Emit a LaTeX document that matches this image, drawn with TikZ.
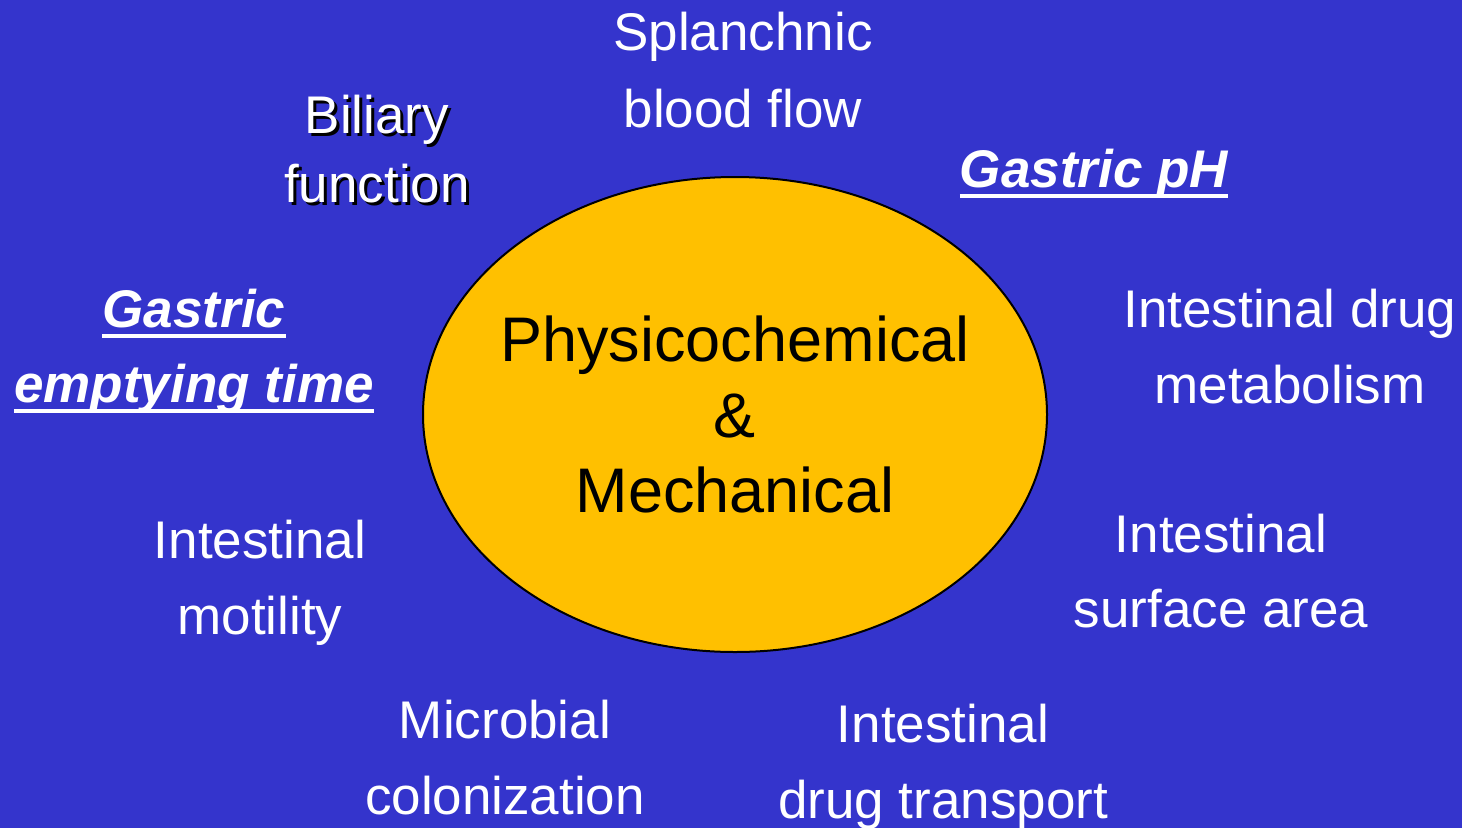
\documentclass[tikz,border=0pt]{standalone}
\usepackage{fontspec}
\setmainfont{Liberation Sans}
\usetikzlibrary{shapes.geometric}
\definecolor{bg}{HTML}{3434CC}
\definecolor{gold}{HTML}{FFC000}
\tikzset{
  lbl/.style={text=white, inner sep=0pt, anchor=base, font=\fontsize{53}{64}\selectfont},
  key/.style={text=white, inner sep=0pt, anchor=base, font=\fontsize{53}{64}\selectfont\bfseries\itshape},
  shadowtxt/.style={text=black, inner sep=0pt, anchor=base, font=\fontsize{53}{64}\selectfont},
  uline/.style={draw=white, line width=3.5pt},
}
\begin{document}
\begin{tikzpicture}[x=1pt,y=-1pt]
\fill[bg] (0,0) rectangle (1462,828);
\useasboundingbox (0,0) rectangle (1462,828);
% centre ellipse
\node (core) [ellipse, draw=black, line width=2pt, fill=gold, minimum width=624pt, minimum height=475pt, inner sep=0pt] at (735,414.5) {};
\node (coretext) [inner sep=0pt, align=center, font=\fontsize{63}{75.5}\selectfont] at (core.center) {Physicochemical\\\&\\Mechanical};
% Splanchnic
\node (spl1) [lbl] at (743,50) {Splanchnic};
\node (spl2) [lbl] at (743,127) {blood flow};
% Biliary (shadowed)
\node (bilS1) [shadowtxt] at (380,136) {Biliary};
\node (bilS2) [shadowtxt] at (380,205) {function};
\node (bil1) [lbl] at (377,133) {Biliary};
\node (bil2) [lbl] at (377,202) {function};
% Gastric pH
\node (gph) [key] at (1094,187) {Gastric pH};
\draw[uline] ([yshift=-9pt]gph.base west) -- ([yshift=-9pt]gph.base east);
% Gastric emptying time
\node (get1) [key] at (194,327) {Gastric};
\node (get2) [key] at (194,402) {emptying time};
\draw[uline] ([yshift=-9pt]get1.base west) -- ([yshift=-9pt]get1.base east);
\draw[uline] ([yshift=-9pt]get2.base west) -- ([yshift=-9pt]get2.base east);
% Intestinal drug metabolism
\node (idm1) [lbl] at (1290,327) {Intestinal drug};
\node (idm2) [lbl] at (1290,403) {metabolism};
% Intestinal motility
\node (imo1) [lbl] at (260,558) {Intestinal};
\node (imo2) [lbl] at (260,634) {motility};
% Intestinal surface area
\node (isa1) [lbl] at (1221,552) {Intestinal};
\node (isa2) [lbl] at (1221,627) {surface area};
% Microbial colonization
\node (mic1) [lbl] at (505,738) {Microbial};
\node (mic2) [lbl] at (505,814) {colonization};
% Intestinal drug transport
\node (idt1) [lbl] at (943,742) {Intestinal};
\node (idt2) [lbl] at (943,818) {drug transport};
\end{tikzpicture}
\end{document}
